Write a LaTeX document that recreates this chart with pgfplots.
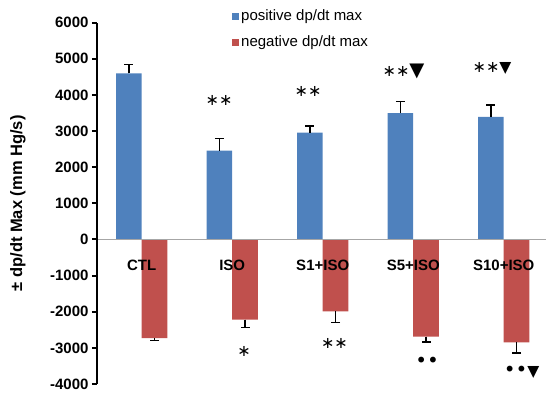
\documentclass[border=0pt]{standalone}
\usepackage{pgfplots}
\pgfplotsset{compat=1.18}
\usepackage{fontspec}
\setmainfont{Liberation Sans}
\newfontfamily\symf{DejaVu Sans}
\definecolor{bblue}{HTML}{4F81BD}
\definecolor{rred}{HTML}{C0504D}
\definecolor{zgray}{HTML}{A6A6A6}

% x positions are the bar centres (group index -/+ half a bar width)
\pgfplotstableread{
x y e
-0.142 4600 250
0.858 2460 340
1.858 2960 180
2.858 3500 310
3.858 3390 330
}\pos
\pgfplotstableread{
x y e
0.142 -2730 60
1.142 -2220 220
2.142 -1990 300
3.142 -2690 150
4.142 -2850 290
}\negt

\begin{document}
\begin{tikzpicture}
\begin{axis}[
  name=ax,
  scale only axis,
  width=449bp, height=361.3bp,
  xmin=-0.494, xmax=4.467,
  ymin=-4000, ymax=6000,
  clip=false,
  axis on top,
  ybar, bar width=25.7bp, bar shift=0pt,
  axis x line=middle, axis y line=left,
  hide obscured x ticks=false, hide obscured y ticks=false,
  x axis line style={zgray, line width=1bp, -},
  y axis line style={black, line width=2bp, -},
  xtick={0,1,2,3,4},
  xticklabels={CTL,ISO,S1+ISO,S5+ISO,S10+ISO},
  xtick style={draw=none},
  xticklabel style={font=\fontsize{15bp}{18bp}\selectfont\bfseries, anchor=center, yshift=-21bp},
  ytick={-4000,-3000,...,6000},
  ytick style={black, line width=2bp},
  tick align=outside,
  major tick length=5bp,
  scaled y ticks=false,
  yticklabel style={font=\fontsize{15bp}{18bp}\selectfont\bfseries, /pgf/number format/.cd, fixed, 1000 sep={}, assume math mode=true},
  ylabel={± dp/dt Max (mm Hg/s)},
  every axis y label/.style={at={(axis description cs:-0.176,0.5)}, rotate=90, anchor=center, font=\fontsize{16.5bp}{20bp}\selectfont\bfseries},
  legend style={at={(rel axis cs:0.3007,1.0435)}, anchor=north west, draw=none, fill=none,
     font=\fontsize{15bp}{18bp}\selectfont, row sep=8bp, inner sep=0pt,
     nodes={inner sep=2bp, text height=11bp, text depth=3bp}},
  legend cell align=left,
  legend image code/.code={\fill[#1] (0bp,-3.5bp) rectangle (7bp,3.5bp);},
]
\addplot[fill=bblue, draw=none,
  error bars/.cd, y dir=plus, y explicit,
  error mark=|,
  error bar style={black, line width=1.3bp},
  error mark options={black, line width=1.3bp, mark size=4.5bp}]
  table[x=x, y=y, y error=e] {\pos};
\addplot[fill=rred, draw=none,
  error bars/.cd, y dir=minus, y explicit,
  error mark=|,
  error bar style={black, line width=1.3bp},
  error mark options={black, line width=1.3bp, mark size=4.5bp}]
  table[x=x, y=y, y error=e] {\negt};
\legend{positive dp/dt max, negative dp/dt max}

\node[font=\symf\fontsize{16bp}{16bp}\selectfont] at (axis cs:0.854,3850) {∗∗};
\node[font=\symf\fontsize{16bp}{16bp}\selectfont] at (axis cs:1.838,4100) {∗∗};
\node[font=\symf\fontsize{16bp}{16bp}\selectfont] at (axis cs:2.893,4657) {∗∗{\fontsize{19.5bp}{20bp}\selectfont ▼}};
\node[font=\symf\fontsize{16bp}{16bp}\selectfont] at (axis cs:3.871,4723) {∗∗{\fontsize{15.6bp}{16bp}\selectfont ▼}};
\node[font=\symf\fontsize{16bp}{16bp}\selectfont] at (axis cs:1.131,-3105) {∗};
\node[font=\symf\fontsize{16bp}{16bp}\selectfont] at (axis cs:2.130,-2873) {∗∗};
\node[font=\symf\fontsize{20bp}{20bp}\selectfont] at (axis cs:3.153,-3409) {••};
\node[font=\symf\fontsize{20bp}{20bp}\selectfont] at (axis cs:4.197,-3674) {••{\fontsize{15.6bp}{16bp}\selectfont ▼}};
\end{axis}
\pgfresetboundingbox
\path[use as bounding box] ([shift={(-97bp,-10bp)}]ax.south west) rectangle ([shift={(0bp,22.7bp)}]ax.north east);
\end{tikzpicture}
\end{document}
